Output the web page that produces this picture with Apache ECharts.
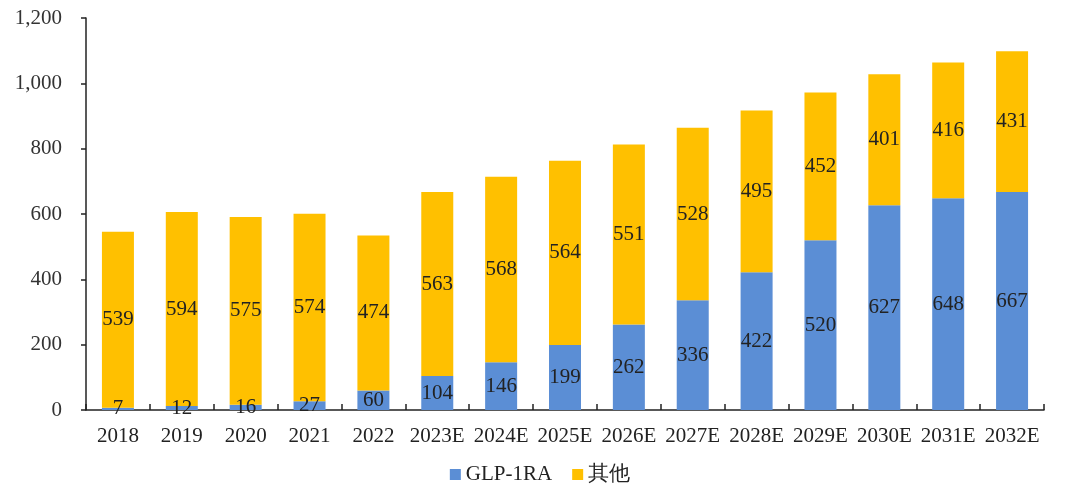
<!DOCTYPE html>
<html><head><meta charset="utf-8">
<script src="https://cdn.jsdelivr.net/npm/echarts@6/dist/echarts.min.js"></script>
<style>html,body{margin:0;padding:0;background:#fff}#c{width:1080px;height:495px}</style>
</head><body><div id="c"></div>
<script>
var categories = ['2018','2019','2020','2021','2022','2023E','2024E','2025E','2026E','2027E','2028E','2029E','2030E','2031E','2032E'];
var glp1ra = [7,12,16,27,60,104,146,199,262,336,422,520,627,648,667];
var others = [539,594,575,574,474,563,568,564,551,528,495,452,401,416,431];
var yTicks = [0,200,400,600,800,1000,1200];

var font = '"Liberation Serif","Times New Roman",serif';
var chart = echarts.init(document.getElementById('c'));
var lbl = {show:true, position:'inside', color:'#222', fontFamily:font, fontSize:21};
chart.setOption({
  animation:false,
  grid:{left:86, right:36, top:18, bottom:85},
  legend:{bottom:5, left:'center', itemWidth:11, itemHeight:11, itemGap:20, icon:'rect',
    textStyle:{fontFamily:font, fontSize:21, color:'#222'},
    data:['GLP-1RA','其他']},
  xAxis:{type:'category', data:categories,
    axisLine:{lineStyle:{color:'#222', width:1.5}},
    axisTick:{show:true, inside:true, length:6, alignWithLabel:false, lineStyle:{color:'#222', width:1.5}},
    axisLabel:{color:'#222', fontFamily:font, fontSize:21, margin:16, interval:0}},
  yAxis:{type:'value', min:yTicks[0], max:yTicks[yTicks.length-1], interval:200,
    splitLine:{show:false},
    axisLine:{show:true, lineStyle:{color:'#222', width:1.5}},
    axisTick:{show:true, length:5, lineStyle:{color:'#222', width:1.5}},
    axisLabel:{color:'#333', fontFamily:font, fontSize:21, margin:24,
      formatter:function(v){return v.toLocaleString('en-US');}}},
  series:[
    {name:'GLP-1RA', type:'bar', stack:'t', data:glp1ra, barWidth:32,
     itemStyle:{color:'#5B8ED5'}, label:lbl},
    {name:'其他', type:'bar', stack:'t', data:others, barWidth:32,
     itemStyle:{color:'#FFC000'}, label:lbl}
  ]
});
</script></body></html>
